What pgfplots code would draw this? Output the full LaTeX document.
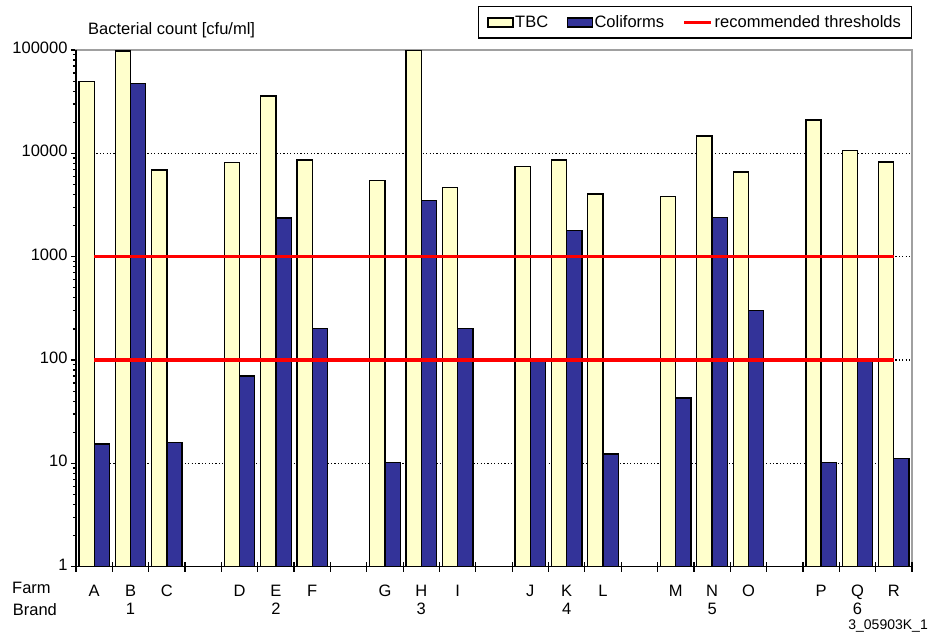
\documentclass[border=0pt]{standalone}
\usepackage{pgfplots}
\pgfplotsset{compat=1.18}
\usepackage{pgfplotstable}
\usepackage{fontspec}
\setmainfont{Liberation Sans}

\definecolor{tbcfill}{HTML}{FFFFCC}
\definecolor{colifill}{HTML}{333399}
\definecolor{framegray}{HTML}{A0A0A0}
\definecolor{threshred}{HTML}{FF0000}

% bacterial counts per farm (x = slot centre; brands separated by an empty slot)
\pgfplotstableread{
x    tbc     coli
0.5  49500   15.4
1.5  98000   47400
2.5  6900    16
4.5  8200    70
5.5  35800   2360
6.5  8600    203
8.5  5500    10.2
9.5  99500   3520
10.5 4650    203
12.5 7500    99
13.5 8600    1800
14.5 4030    12.3
16.5 3850    43
17.5 14700   2380
18.5 6600    303
20.5 21000   10.2
21.5 10700   97
22.5 8250    11.2
}\counts

\begin{document}
\begin{tikzpicture}[font=\fontsize{16.5bp}{17.6bp}\selectfont]
\begin{axis}[
  scale only axis,
  width=836bp, height=516.7bp,
  xmin=0, xmax=23,
  ymode=log, ymin=1, ymax=100000,
  axis line style={draw=framegray, line width=1.2bp},
  tick pos=left,
  major tick length=5bp, minor tick length=3bp,
  ytick align=outside,
  tick style={black, line width=1.2bp},
  ytick={1,10,100,1000,10000,100000},
  yticklabels={1,10,100,1000,10000,100000},
  minor ytick={2,3,4,5,6,7,8,9,20,30,40,50,60,70,80,90,200,300,400,500,600,700,800,900,2000,3000,4000,5000,6000,7000,8000,9000,20000,30000,40000,50000,60000,70000,80000,90000},
  ymajorgrids,
  major grid style={black, line width=1.2bp, dash pattern=on 1.2bp off 2.2bp},
  xtick={0.5,1.5,2.5,4.5,5.5,6.5,8.5,9.5,10.5,12.5,13.5,14.5,16.5,17.5,18.5,20.5,21.5,22.5},
  xticklabels={A,{B\\[0.2bp]1},C,D,{E\\[0.2bp]2},F,G,{H\\[0.2bp]3},I,J,{K\\[0.2bp]4},L,M,{N\\[0.2bp]5},O,P,{Q\\[0.2bp]6},R},
  xtick style={draw=none},
  typeset ticklabels with strut,
  xticklabel style={align=center, inner sep=0bp, yshift=-17.7bp},
  legend columns=3,
  legend style={
    at={(rel axis cs:1,1)}, anchor=south east, yshift=11.3bp,
    draw=black, line width=1.2bp,
    inner xsep=9bp, inner ysep=7bp,
    nodes={inner xsep=1.5bp},
    /tikz/every even column/.append style={column sep=17bp},
  },
  clip=false,
]
\addplot[ybar, bar width=0.42, bar shift=-0.21, fill=tbcfill, draw=black, line width=1.3bp,
  legend image code/.code={\draw[fill=tbcfill, draw=black, line width=1.3bp] (0bp,-4.5bp) rectangle (25bp,4.5bp);}]
  table[x=x, y=tbc] {\counts};
\addlegendentry{TBC}
\addplot[ybar, bar width=0.42, bar shift=0.21, fill=colifill, draw=black, line width=1.3bp,
  legend image code/.code={\draw[fill=colifill, draw=black, line width=1.3bp] (0bp,-4.5bp) rectangle (25bp,4.5bp);}]
  table[x=x, y=coli] {\counts};
\addlegendentry{Coliforms}
\addplot[threshred, line width=3.5bp, mark=none,
  legend image code/.code={\draw[threshred, line width=3.5bp] (0bp,0bp) -- (27bp,0bp);}]
  coordinates {(0.5,1000) (22.5,1000)};
\addlegendentry{recommended thresholds}
\addplot[threshred, line width=3.5bp, mark=none, forget plot]
  coordinates {(0.5,100) (22.5,100)};

% left and bottom frame in black
\draw[black, line width=1.3bp] (rel axis cs:0,1) -- (rel axis cs:0,0) -- (rel axis cs:1,0);

\coordinate (sw) at (rel axis cs:0,0);
\node[anchor=base west, inner sep=0pt] at (rel axis cs:0,1) [xshift=12bp, yshift=15bp] {Bacterial count [cfu/ml]};
\node[anchor=west, inner sep=0pt] at (rel axis cs:0,0) [xshift=-64bp, yshift=-21bp] {Farm};
\node[anchor=west, inner sep=0pt] at (rel axis cs:0,0) [xshift=-63.3bp, yshift=-43.3bp] {Brand};
\node[anchor=base east, inner sep=0pt, font=\fontsize{14bp}{16bp}\selectfont] at (rel axis cs:1,0) [xshift=16bp, yshift=-62.3bp] {3\_05903K\_1};
\end{axis}
% slot boundary ticks on the category axis
\begin{axis}[
  scale only axis,
  width=836bp, height=516.7bp,
  xmin=0, xmax=23, ymin=0, ymax=1,
  axis line style={draw=none},
  hide y axis,
  tick pos=left,
  xtick={0,1,...,23},
  xticklabels={},
  xtick align=center,
  major tick length=10bp,
  tick style={black, line width=1.2bp},
]
\end{axis}
\pgfresetboundingbox
\path[use as bounding box] (sw) ++(-76bp,-67.3bp) rectangle ++(932bp,634bp);
\end{tikzpicture}
\end{document}
